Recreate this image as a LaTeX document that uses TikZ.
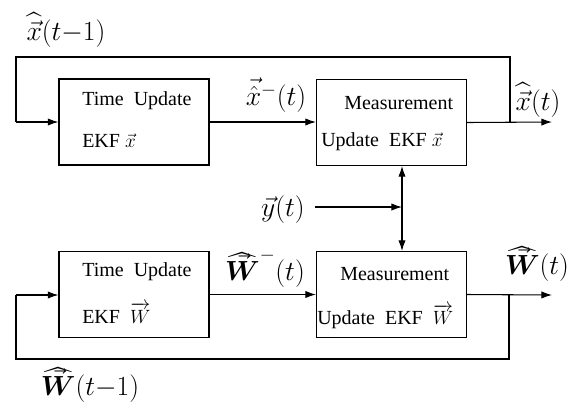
\documentclass[tikz,border=0pt]{standalone}
\usepackage{amsmath,bm}
\usepackage{fontspec}
\newfontfamily\boxfont{Liberation Serif}
\usetikzlibrary{arrows.meta}
\tikzset{
  block/.style={draw, line width=0.8pt, minimum width=112.5pt, minimum height=64.5pt, inner sep=0pt},
  boxtxt/.style={anchor=west, inner sep=0pt, font=\boxfont\fontsize{15}{18}\selectfont},
  sig/.style={inner sep=0pt, font=\fontsize{20}{24}\selectfont},
  wire/.style={line width=0.8pt},
  arr/.style={wire, -{Latex[length=8pt,width=5.5pt]}},
  darr/.style={wire, {Latex[length=8pt,width=5.5pt]}-{Latex[length=8pt,width=5.5pt]}}
}
% estimated weight vector: hat over W, arrow kept inside the hat
\newcommand{\Wh}{\widehat{\vphantom{W}\smash{\vec{\boldsymbol{W}}}}}
\begin{document}
\begin{tikzpicture}[x=0.75pt, y=-0.75pt]
  \useasboundingbox (0,0) rectangle (581,412);

  % blocks
  \node[block] (tx) at (134,122) {};
  \node[block] (mx) at (391.5,122.5) {};
  \node[block] (tw) at (134,294.5) {};
  \node[block] (mw) at (391.5,294.5) {};

  % block texts
  \node[boxtxt] (tx1) at (82,101) {Time\ \ Update};
  \node[boxtxt] (tx2) at (82,141) {EKF $\vec{x}$};
  \node[boxtxt] (mx1) at (344,103) {Measurement};
  \node[boxtxt] (mx2) at (321,142) {Update\ \ EKF $\vec{x}$};
  \node[boxtxt] (tw1) at (82,272) {Time\ \ Update};
  \node[boxtxt] (tw2) at (82,313) {EKF\ \ $\overrightarrow{W}$};
  \node[boxtxt] (mw1) at (340,274) {Measurement};
  \node[boxtxt] (mw2) at (317,317) {Update\ \ EKF\ \ $\overrightarrow{W}$};

  % junction points
  \coordinate (xo) at (552,122);
  \coordinate (xj) at (510,122);
  \coordinate (xtr) at (510,57);
  \coordinate (xtl) at (16,57);
  \coordinate (xin) at (16,122);
  \coordinate (wo) at (552,295);
  \coordinate (wj) at (509,295);
  \coordinate (wbr) at (509,359);
  \coordinate (wbl) at (16,359);
  \coordinate (win) at (16,295);
  \coordinate (ys) at (315,207);
  \coordinate (ye) at (402,207);

  % state loop
  \draw[arr] (tx.east) -- (tx.east -| mx.west);
  \draw[arr] (mx.east) -- (xo);
  \draw[wire] (xj) -- (xtr) -- (xtl) -- (xin);
  \draw[arr] (xin) -- (tx.west);

  % weight loop
  \draw[arr] (tw.east |- mw.west) -- (mw.west);
  \draw[arr] (mw.east) -- (wo);
  \draw[wire] (wj) -- (wbr) -- (wbl) -- (win);
  \draw[arr] (win) -- (tw.west |- win);

  % measurement link
  \draw[darr] (mx.south -| ye) -- (mw.north -| ye);
  \draw[arr] (ys) -- (ye);

  % signal labels
  \node[sig] (l1) at (66,30) {$\widehat{\vec{x}}(t{-}1)$};
  \node[sig] (l2) at (276,95) {$\vec{\hat{x}}^{-}(t)$};
  \node[sig] (l3) at (538,100) {$\widehat{\vec{x}}(t)$};
  \node[sig] (l4) at (283,210) {$\vec{y}(t)$};
  \node[sig] (l5) at (265,268) {$\Wh^{-}(t)$};
  \node[sig] (l6) at (537,264) {$\Wh(t)$};
  \node[sig] (l7) at (90,385) {$\Wh(t{-}1)$};
\end{tikzpicture}
\end{document}
